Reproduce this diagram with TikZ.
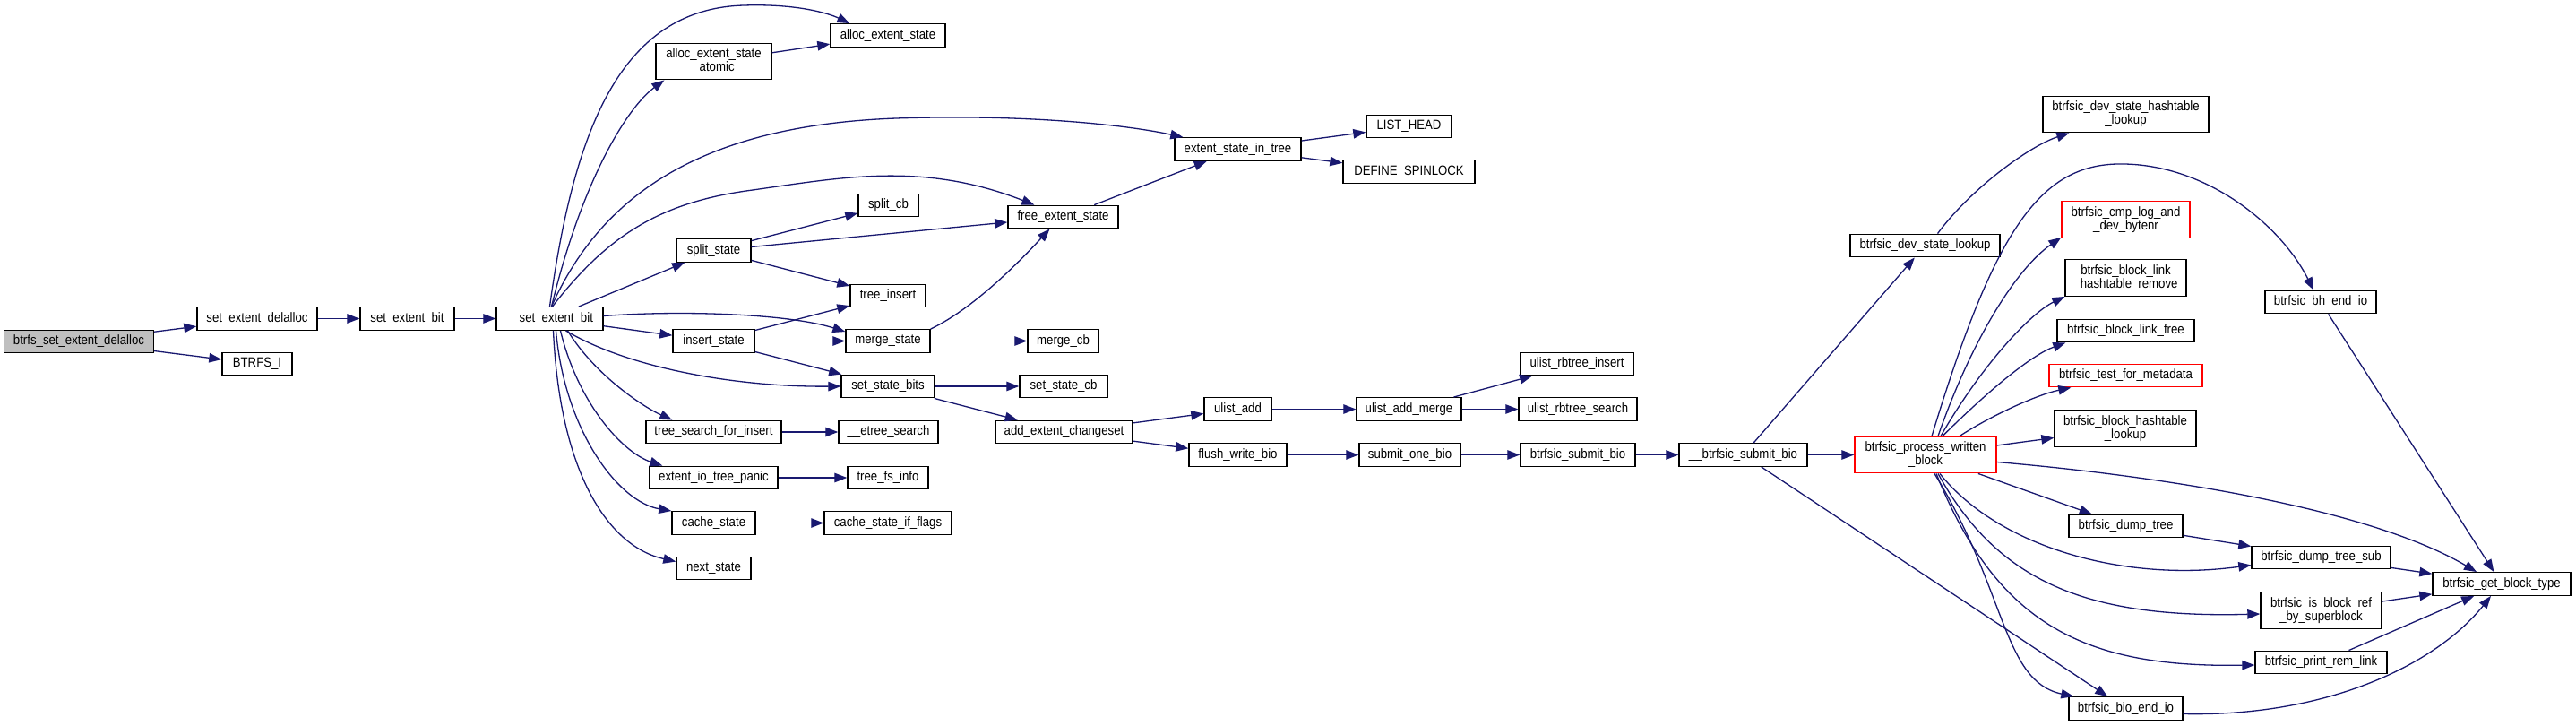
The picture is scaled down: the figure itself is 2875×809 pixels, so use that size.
\documentclass[tikz,border=0pt]{standalone}
\usepackage{fontspec}
\newfontfamily\fnfont{Liberation Sans}[FakeStretch=0.88]
\usetikzlibrary{arrows.meta}
\definecolor{edgec}{RGB}{25,25,112}
\definecolor{rootgray}{RGB}{191,191,191}
\definecolor{redb}{RGB}{255,0,0}
\begin{document}
\begin{tikzpicture}[x=1pt,y=-1pt,
 fn/.style={draw=black, line width=1.4pt, fill=white, inner sep=0pt, minimum height=25.5pt, align=center, font=\fnfont\fontsize{15}{15}\selectfont, text=black},
 fn2/.style={fn, minimum height=40.5pt},
 redfn/.style={draw=redb},
 ed/.style={draw=edgec, line width=1.3pt, -{Triangle[length=14pt,width=10.5pt]}}]
\fill[white] (0,0) rectangle (2875,809);
\useasboundingbox (0,0) rectangle (2875,809);

\node[fn, fill=rootgray, minimum width=167pt] (root) at (88,381) {btrfs\_set\_extent\_delalloc};
\node[fn, minimum width=134pt] (sed) at (287,355.5) {set\_extent\_delalloc};
\node[fn, minimum width=78pt] (bi) at (287,406) {BTRFS\_I};
\node[fn, minimum width=105pt] (seb) at (454.5,355.5) {set\_extent\_bit};
\node[fn, minimum width=119pt] (usb) at (613.5,355.5) {\_\_set\_extent\_bit};
\node[fn2, minimum width=129pt] (aesa) at (796.5,68.5) {alloc\_extent\_state\\\_atomic};
\node[fn, minimum width=83pt] (split) at (796.5,279.5) {split\_state};
\node[fn, minimum width=91pt] (ins) at (796.5,380.5) {insert\_state};
\node[fn, minimum width=151pt] (tsfi) at (796.5,482) {tree\_search\_for\_insert};
\node[fn, minimum width=143pt] (eitp) at (796.5,533) {extent\_io\_tree\_panic};
\node[fn, minimum width=93pt] (cs) at (796.5,583.5) {cache\_state};
\node[fn, minimum width=83pt] (ns) at (796.5,634) {next\_state};
\node[fn, minimum width=128pt] (aes) at (991,39.5) {alloc\_extent\_state};
\node[fn, minimum width=67pt] (scb) at (991.5,229) {split\_cb};
\node[fn, minimum width=84pt] (ti) at (991,330) {tree\_insert};
\node[fn, minimum width=94pt] (ms) at (991,380.5) {merge\_state};
\node[fn, minimum width=104pt] (ssb) at (991,431) {set\_state\_bits};
\node[fn, minimum width=111pt] (ets) at (991.5,482) {\_\_etree\_search};
\node[fn, minimum width=90pt] (tfi) at (991,533) {tree\_fs\_info};
\node[fn, minimum width=142pt] (csif) at (991,583.5) {cache\_state\_if\_flags};
\node[fn, minimum width=123pt] (fes) at (1186.5,242) {free\_extent\_state};
\node[fn, minimum width=79pt] (mcb) at (1186.5,380.5) {merge\_cb};
\node[fn, minimum width=98pt] (sscb) at (1187,431) {set\_state\_cb};
\node[fn, minimum width=153pt] (aec) at (1187.5,482) {add\_extent\_changeset};
\node[fn, minimum width=141pt] (esit) at (1381.5,166.5) {extent\_state\_in\_tree};
\node[fn, minimum width=75pt] (ua) at (1381.5,456.5) {ulist\_add};
\node[fn, minimum width=109pt] (fwb) at (1381.5,507.5) {flush\_write\_bio};
\node[fn, minimum width=95pt] (lh) at (1572.5,141) {LIST\_HEAD};
\node[fn, minimum width=147pt] (dsp) at (1572.5,191.5) {DEFINE\_SPINLOCK};
\node[fn, minimum width=117pt] (uam) at (1572.5,456.5) {ulist\_add\_merge};
\node[fn, minimum width=113pt] (sob) at (1573.5,507.5) {submit\_one\_bio};
\node[fn, minimum width=126pt] (uri) at (1760,406) {ulist\_rbtree\_insert};
\node[fn, minimum width=132pt] (urs) at (1761,456.5) {ulist\_rbtree\_search};
\node[fn, minimum width=128pt] (bsb) at (1761,507.5) {btrfsic\_submit\_bio};
\node[fn, minimum width=143pt] (ubsb) at (1945.5,507.5) {\_\_btrfsic\_submit\_bio};
\node[fn, minimum width=167pt] (dsl) at (2148.5,274) {btrfsic\_dev\_state\_lookup};
\node[fn2, redfn, minimum width=158pt] (pwb) at (2149,507.5) {btrfsic\_process\_written\\\_block};
\node[fn2, minimum width=185pt] (dshl) at (2372.5,127.5) {btrfsic\_dev\_state\_hashtable\\\_lookup};
\node[fn2, redfn, minimum width=143pt] (cmp) at (2372.5,245) {btrfsic\_cmp\_log\_and\\\_dev\_bytenr};
\node[fn2, minimum width=135pt] (blhr) at (2372.5,310) {btrfsic\_block\_link\\\_hashtable\_remove};
\node[fn, minimum width=153pt] (blf) at (2372.5,369) {btrfsic\_block\_link\_free};
\node[fn, redfn, minimum width=171pt] (tfm) at (2372.5,419) {btrfsic\_test\_for\_metadata};
\node[fn2, minimum width=158pt] (bhl) at (2372,478) {btrfsic\_block\_hashtable\\\_lookup};
\node[fn, minimum width=127pt] (dt) at (2372.5,587) {btrfsic\_dump\_tree};
\node[fn, minimum width=127pt] (beio) at (2372.5,790.5) {btrfsic\_bio\_end\_io};
\node[fn, minimum width=124pt] (bhe) at (2590,337) {btrfsic\_bh\_end\_io};
\node[fn, minimum width=155pt] (dts) at (2590.5,622) {btrfsic\_dump\_tree\_sub};
\node[fn2, minimum width=135pt] (ibr) at (2590.5,681) {btrfsic\_is\_block\_ref\\\_by\_superblock};
\node[fn, minimum width=147pt] (prl) at (2590.5,739) {btrfsic\_print\_rem\_link};
\node[fn, minimum width=154pt] (gbt) at (2792,651.5) {btrfsic\_get\_block\_type};

% left chain
\draw[ed] (root) -- (sed);
\draw[ed] (root) -- (bi);
\draw[ed] (sed) -- (seb);
\draw[ed] (seb) -- (usb);
% from __set_extent_bit
\draw[ed] (usb.north) .. controls (640,150) and (690,10) .. (830,6) .. controls (890,4) and (925,15) .. ([xshift=22pt]aes.north west);
\draw[ed] ([xshift=2pt]usb.north) .. controls (650,200) and (700,120) .. ([xshift=10pt]aesa.south west);
\draw[ed] ([xshift=2pt]usb.north) .. controls (670,220) and (780,140) .. (1000,132) .. controls (1150,127) and (1260,140) .. ([xshift=10pt]esit.north west);
\draw[ed] ([xshift=3pt]usb.north) .. controls (680,260) and (740,225) .. (840,212) .. controls (940,198) and (1030,180) .. ([xshift=30pt]fes.north west);
\draw[ed] (usb) -- (split);
\draw[ed] ([yshift=3pt]usb.east) .. controls (760,346) and (880,350) .. ([yshift=-3pt]ms.north west);
\draw[ed] (usb) -- (ins);
\draw[ed] ([xshift=18pt]usb.south) .. controls (700,410) and (820,432) .. (ssb.west);
\draw[ed] ([xshift=20pt]usb.south) .. controls (665,420) and (720,455) .. ([xshift=30pt]tsfi.north west);
\draw[ed] ([xshift=12pt]usb.south) .. controls (645,450) and (695,505) .. ([xshift=15pt]eitp.north west);
\draw[ed] ([xshift=7pt]usb.south) .. controls (630,480) and (690,560) .. (cs.north west);
\draw[ed] ([xshift=4pt]usb.south) .. controls (625,530) and (680,610) .. ([yshift=-6pt]ns.north west);
% second column
\draw[ed] (aesa) -- (aes);
\draw[ed] (split) -- (scb);
\draw[ed] (split) -- (fes);
\draw[ed] (split) -- (ti);
\draw[ed] (ins) -- (ti);
\draw[ed] (ins) -- (ms);
\draw[ed] (ins) -- (ssb);
\draw[ed] (ms.north east) .. controls (1085,345) and (1135,295) .. ([xshift=-15pt]fes.south);
\draw[ed] (ms) -- (mcb);
\draw[ed] (fes) -- (esit);
\draw[ed] (esit) -- (lh);
\draw[ed] (esit) -- (dsp);
\draw[ed] (ssb) -- (sscb);
\draw[ed] (ssb) -- (aec);
\draw[ed] (tsfi) -- (ets);
\draw[ed] (eitp) -- (tfi);
\draw[ed] (cs) -- (csif);
\draw[ed] (aec) -- (ua);
\draw[ed] (aec) -- (fwb);
\draw[ed] (ua) -- (uam);
\draw[ed] (uam) -- (uri);
\draw[ed] (uam) -- (urs);
\draw[ed] (fwb) -- (sob);
\draw[ed] (sob) -- (bsb);
\draw[ed] (bsb) -- (ubsb);
\draw[ed] (ubsb) -- (dsl);
\draw[ed] (ubsb) -- (pwb);
\draw[ed] (ubsb) -- (beio);
\draw[ed] ([xshift=14pt]dsl.north) .. controls (2200,210) and (2265,163) .. ([xshift=30pt]dshl.south west);
% from process_written_block
\draw[ed] ([xshift=7pt]pwb.north) .. controls (2225,260) and (2275,185) .. (2363,183) .. controls (2460,181) and (2545,250) .. ([xshift=-8pt]bhe.north);
\draw[ed] ([xshift=14pt]pwb.north) .. controls (2200,380) and (2250,300) .. ([yshift=1pt]cmp.south west);
\draw[ed] ([xshift=17pt]pwb.north) .. controls (2210,410) and (2265,350) .. (blhr.south west);
\draw[ed] ([xshift=19pt]pwb.north) .. controls (2225,430) and (2270,395) .. ([xshift=10pt]blf.south west);
\draw[ed] ([xshift=38pt]pwb.north) .. controls (2225,462) and (2275,440) .. ([xshift=25pt]tfm.south west);
\draw[ed] (pwb) -- (bhl);
\draw[ed] ([yshift=-8pt]pwb.east) .. controls (2400,530) and (2640,565) .. ([xshift=-28pt]gbt.north);
\draw[ed] (pwb) -- (dt);
\draw[ed] ([xshift=16pt]pwb.south) .. controls (2230,610) and (2370,650) .. ([yshift=5pt]dts.south west);
\draw[ed] ([xshift=14pt]pwb.south) .. controls (2230,650) and (2330,690) .. ([yshift=-4pt]ibr.west);
\draw[ed] ([xshift=12pt]pwb.south) .. controls (2230,700) and (2330,745) .. ([yshift=-3pt]prl.west);
\draw[ed] ([xshift=10pt]pwb.south) .. controls (2240,660) and (2235,760) .. ([xshift=6pt]beio.north west);
% into get_block_type
\draw[ed] (bhe) -- (gbt);
\draw[ed] (dt) -- (dts);
\draw[ed] (dts) -- (gbt);
\draw[ed] (ibr) -- (gbt);
\draw[ed] (prl) -- (gbt);
\draw[ed] ([yshift=-6pt]beio.east) .. controls (2600,800) and (2720,740) .. ([xshift=-12pt]gbt.south);
\end{tikzpicture}
\end{document}
